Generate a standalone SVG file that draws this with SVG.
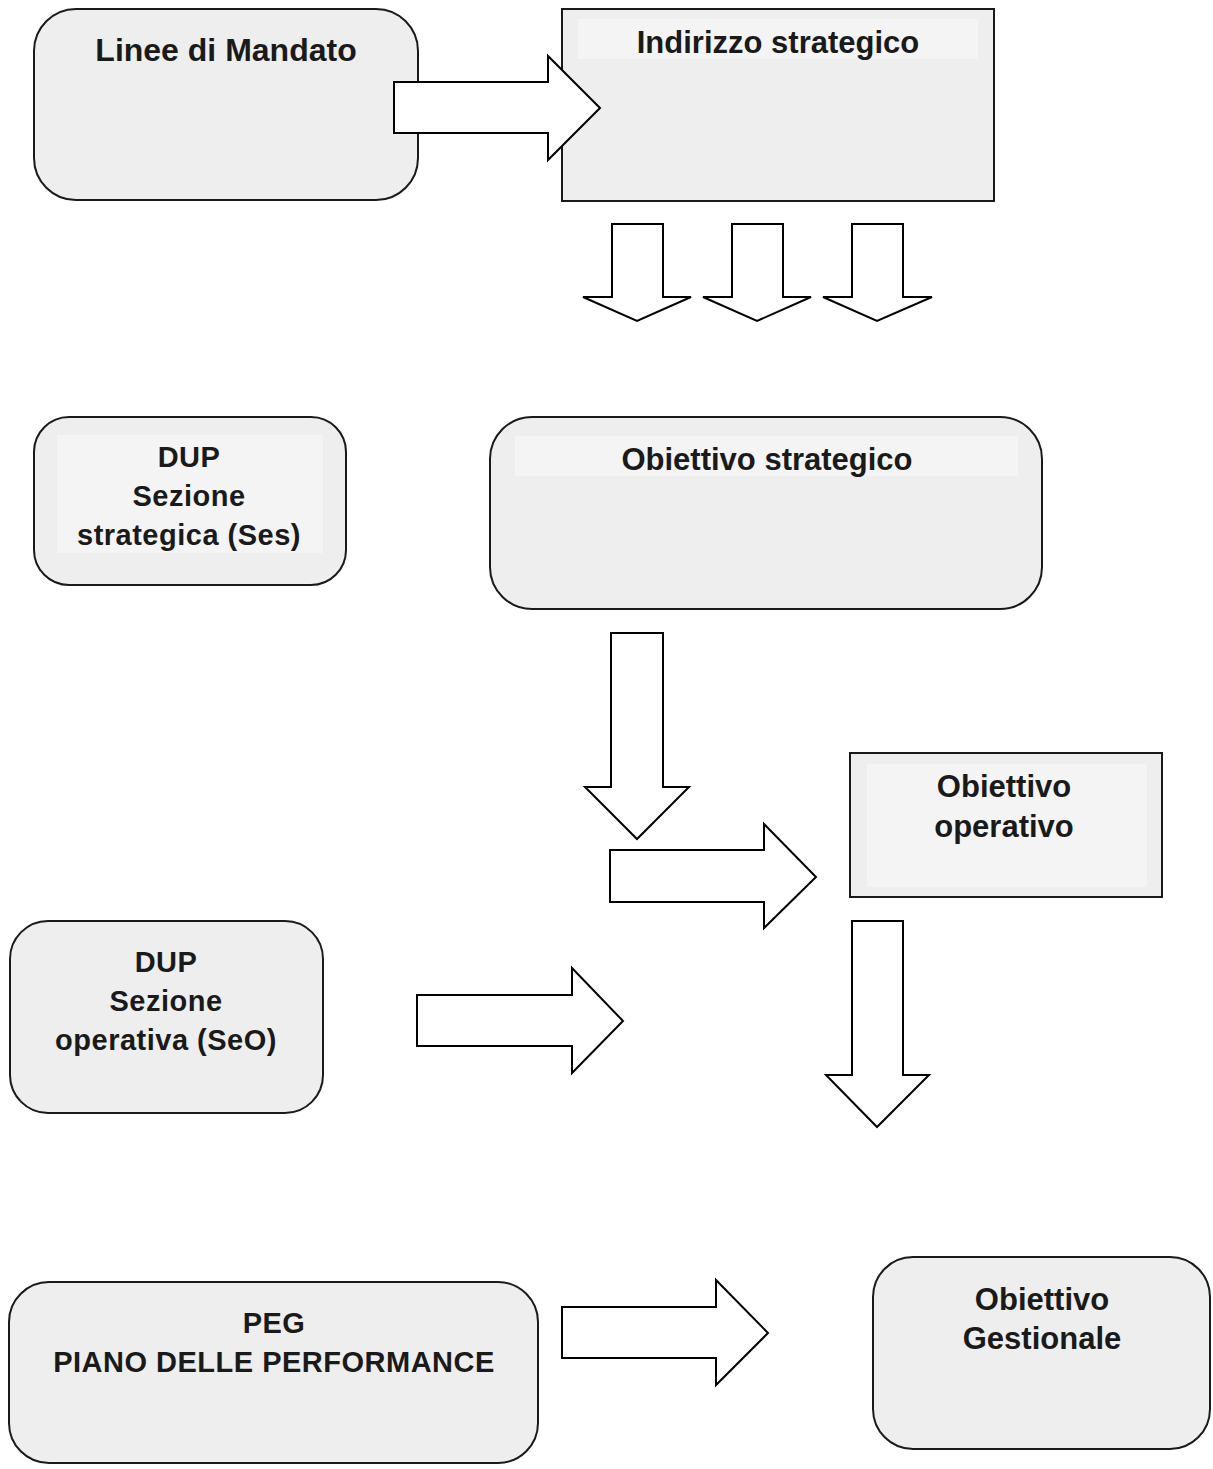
<svg xmlns="http://www.w3.org/2000/svg" width="1213" height="1469" viewBox="0 0 1213 1469">
<style>
.box{fill:#eeeeee;stroke:#1a1a1a;stroke-width:2}
.band{fill:#f4f4f4;stroke:none}
.h{font-family:"Liberation Sans",Arial,sans-serif;font-weight:bold;font-size:31px;fill:#1a1a1a;text-anchor:middle}
.s{font-family:"Liberation Sans",Arial,sans-serif;font-weight:bold;font-size:29px;fill:#1a1a1a;text-anchor:middle;letter-spacing:0.5px}
.arrow{fill:#ffffff;stroke:#000000;stroke-width:2;stroke-linejoin:miter}
</style>
<rect width="1213" height="1469" fill="#ffffff"/>
<g id="linee-mandato">
<rect class="box" x="34" y="9" width="384" height="191" rx="42"/>
<text class="h" x="226" y="61" style="font-size:32px">Linee di Mandato</text>
</g>
<g id="indirizzo-strategico">
<rect class="box" x="562" y="9" width="432" height="192"/>
<rect class="band" x="578" y="19" width="400" height="40"/>
<text class="h" x="778" y="53">Indirizzo strategico</text>
</g>
<g id="dup-ses">
<rect class="box" x="34" y="417" width="312" height="168" rx="35"/>
<rect class="band" x="57" y="435" width="266" height="118"/>
<text class="s" x="189" y="467">DUP</text>
<text class="s" x="189" y="506">Sezione</text>
<text class="s" x="189" y="545">strategica (Ses)</text>
</g>
<g id="obiettivo-strategico">
<rect class="box" x="490" y="417" width="552" height="192" rx="42"/>
<rect class="band" x="515" y="436" width="503" height="40"/>
<text class="h" x="767" y="470">Obiettivo strategico</text>
</g>
<g id="obiettivo-operativo">
<rect class="box" x="850" y="753" width="312" height="144"/>
<rect class="band" x="867" y="764" width="280" height="123"/>
<text class="h" x="1004" y="797">Obiettivo</text>
<text class="h" x="1004" y="837">operativo</text>
</g>
<g id="dup-seo">
<rect class="box" x="10" y="921" width="313" height="192" rx="38"/>
<text class="s" x="166" y="972">DUP</text>
<text class="s" x="166" y="1011">Sezione</text>
<text class="s" x="166" y="1050">operativa (SeO)</text>
</g>
<g id="peg">
<rect class="box" x="9" y="1282" width="529" height="181" rx="40"/>
<text class="s" x="274" y="1333">PEG</text>
<text class="s" x="274" y="1372">PIANO DELLE PERFORMANCE</text>
</g>
<g id="obiettivo-gestionale">
<rect class="box" x="873" y="1257" width="337" height="192" rx="40"/>
<text class="h" x="1042" y="1310">Obiettivo</text>
<text class="h" x="1042" y="1349">Gestionale</text>
</g>
<g id="connectors">
<polygon class="arrow" points="394,82 548,82 548,56 600,108 548,160 548,133 394,133"/>
<polygon class="arrow" points="612,224 663,224 663,297 691,297 637,321 583,297 612,297"/>
<polygon class="arrow" points="732,224 783,224 783,297 811,297 757,321 703,297 732,297"/>
<polygon class="arrow" points="852,224 903,224 903,297 932,297 877,321 823,297 852,297"/>
<polygon class="arrow" points="611,633 663,633 663,787 689,787 637,839 585,787 611,787"/>
<polygon class="arrow" points="610,850 764,850 764,824 816,877 764,928 764,902 610,902"/>
<polygon class="arrow" points="417,995 572,995 572,968 623,1021 572,1073 572,1046 417,1046"/>
<polygon class="arrow" points="852,921 903,921 903,1075 929,1075 877,1127 826,1075 852,1075"/>
<polygon class="arrow" points="562,1307 716,1307 716,1280 768,1333 716,1385 716,1358 562,1358"/>
</g>
</svg>
